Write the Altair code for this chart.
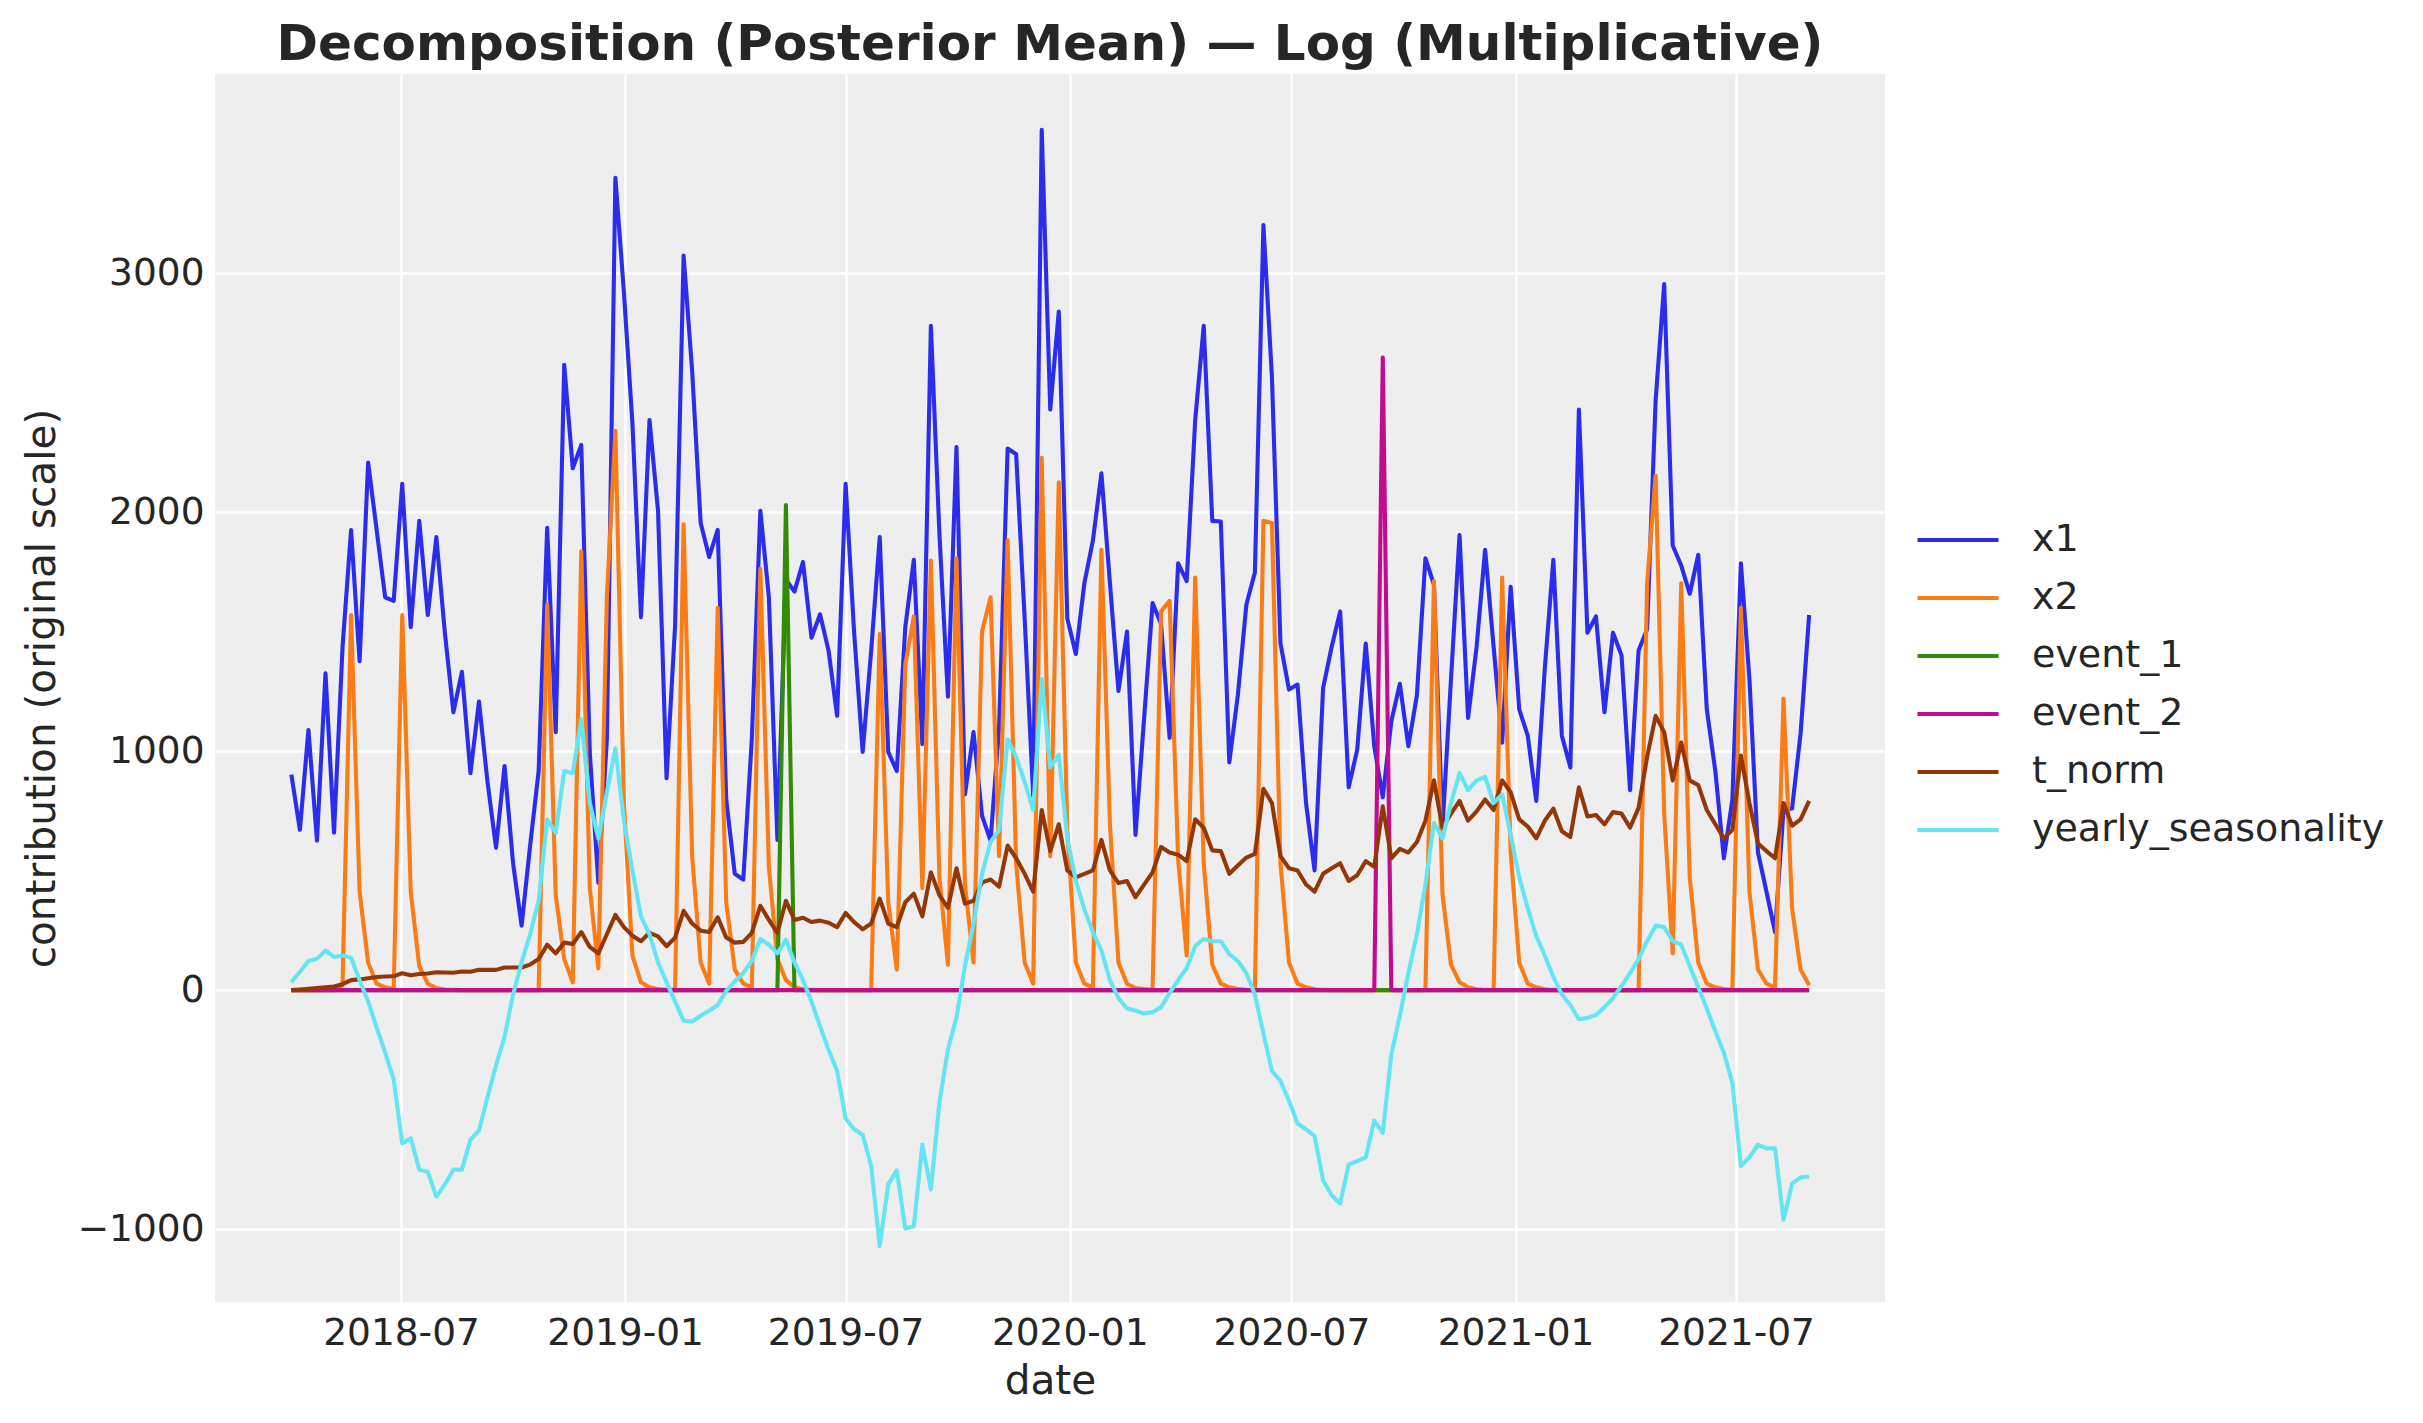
import altair as alt
import pandas as pd

# weekly dates (179 Mondays)
dates = pd.date_range("2018-04-02", periods=179, freq="7D").strftime("%Y-%m-%d").tolist()

x1 = [
    902, 671, 1089, 626, 1326, 659, 1436, 1926, 1377, 2208,
    1926, 1644, 1629, 2119, 1519, 1964, 1570, 1896, 1496, 1163,
    1332, 908, 1208, 872, 596, 938, 531, 270, 605, 917,
    1935, 1080, 2617, 2184, 2282, 991, 450, 1050, 3400, 2920,
    2371, 1561, 2386, 2006, 887, 1525, 3074, 2593, 1955, 1813,
    1926, 798, 487, 463, 1050, 2006, 1644, 629, 1718, 1668,
    1792, 1475, 1573, 1421, 1148, 2119, 1496, 997, 1421, 1896,
    997, 917, 1519, 1801, 1030, 2780, 1911, 1228, 2273, 819,
    1080, 730, 626, 1100, 2267, 2243, 1555, 813, 3600, 2430,
    2840, 1555, 1407, 1703, 1881, 2163, 1703, 1252, 1501, 650,
    1134, 1620, 1531, 1056, 1786, 1712, 2386, 2780, 1964, 1961,
    953, 1234, 1614, 1748, 3202, 2564, 1451, 1258, 1279, 783,
    501, 1264, 1436, 1585, 849, 1006, 1451, 1021, 807, 1125,
    1282, 1021, 1234, 1807, 1697, 680, 1303, 1905, 1139, 1436,
    1843, 1436, 1036, 1688, 1175, 1065, 792, 1347, 1801, 1065,
    932, 2430, 1496, 1564, 1163, 1496, 1401, 837, 1421, 1510,
    2469, 2955, 1861, 1777, 1659, 1822, 1175, 917, 552, 798,
    1786, 1303, 576, 412, 243, 754, 760, 1074, 1570,
]

x2 = [
    0, 0, 0, 0, 0, 0, 20, 1570, 412, 116,
    27, 12, 5, 1570, 412, 100, 27, 9, 3, 1,
    0, 0, 0, 0, 0, 0, 0, 0, 0, 0,
    1614, 398, 130, 33, 1837, 427, 92, 1644, 2341, 783,
    145, 33, 12, 5, 2, 0, 1950, 561, 116, 27,
    1600, 368, 86, 27, 12, 1763, 516, 130, 42, 12,
    4, 1, 0, 0, 0, 0, 0, 0, 0, 1490,
    368, 86, 1362, 1564, 427, 1798, 472, 107, 1807, 442,
    116, 1501, 1644, 561, 1884, 531, 116, 27, 2228, 561,
    2125, 665, 116, 27, 12, 1843, 694, 116, 27, 9,
    5, 2, 1585, 1629, 546, 145, 1727, 531, 107, 27,
    12, 5, 2, 0, 1964, 1955, 531, 116, 27, 12,
    4, 1, 0, 0, 0, 0, 0, 0, 0, 0,
    0, 0, 0, 0, 1712, 401, 107, 33, 12, 4,
    1, 0, 1727, 576, 116, 27, 12, 4, 1, 0,
    0, 0, 0, 0, 0, 0, 0, 0, 0, 1703,
    2154, 739, 154, 1703, 472, 116, 27, 12, 5, 2,
    1600, 412, 86, 27, 12, 1220, 344, 86, 21,
]

event_1 = [0] * 58 + [2030] + [0] * 120
event_2 = [0] * 128 + [2647] + [0] * 50

t_norm = [
    0, 3, 6, 9, 12, 15, 25, 42, 45, 50,
    55, 57, 58, 71, 62, 68, 70, 75, 74, 73,
    78, 77, 85, 85, 85, 95, 95, 95, 107, 130,
    190, 154, 199, 193, 243, 181, 154, 234, 315, 264,
    228, 205, 240, 225, 184, 220, 332, 279, 249, 243,
    305, 220, 199, 202, 240, 353, 294, 240, 374, 294,
    303, 285, 291, 282, 264, 323, 285, 255, 279, 383,
    279, 264, 368, 404, 309, 493, 398, 344, 510, 362,
    374, 451, 463, 433, 605, 552, 487, 412, 754, 582,
    694, 501, 472, 487, 501, 629, 501, 448, 457, 389,
    442, 493, 599, 576, 567, 540, 715, 680, 585, 582,
    487, 522, 555, 570, 843, 783, 561, 510, 501, 442,
    412, 487, 510, 531, 457, 481, 540, 516, 769, 552,
    591, 576, 620, 709, 878, 680, 739, 792, 709, 748,
    798, 754, 878, 828, 715, 685, 635, 709, 760, 665,
    641, 849, 727, 733, 694, 745, 739, 680, 763, 976,
    1148, 1080, 878, 1036, 878, 858, 754, 694, 635, 671,
    982, 783, 614, 582, 552, 783, 688, 715, 792,
]

yearly_seasonality = [
    33, 77, 122, 131, 166, 139, 145, 136, 42, -47,
    -157, -261, -374, -641, -620, -751, -760, -864, -813, -751,
    -751, -626, -588, -448, -315, -196, -18, 116, 234, 374,
    715, 659, 917, 908, 1134, 783, 635, 828, 1012, 709,
    501, 309, 234, 116, 33, -47, -128, -131, -107, -86,
    -62, -3, 36, 71, 122, 214, 190, 154, 211, 116,
    42, -47, -151, -249, -338, -537, -582, -605, -736, -1071,
    -813, -754, -997, -988, -647, -834, -470, -248, -115, 101,
    279, 487, 620, 671, 1050, 976, 872, 754, 1303, 932,
    985, 635, 457, 338, 243, 166, 42, -33, -77, -86,
    -98, -92, -71, -12, 42, 92, 184, 214, 205, 205,
    151, 122, 71, -18, -181, -338, -380, -463, -558, -582,
    -611, -795, -858, -893, -730, -715, -700, -546, -597, -270,
    -107, 71, 234, 442, 700, 635, 783, 908, 837, 878,
    893, 783, 819, 650, 472, 344, 226, 145, 56, -18,
    -62, -122, -116, -104, -71, -33, 18, 71, 131, 205,
    270, 264, 205, 190, 101, 12, -77, -172, -261, -389,
    -736, -700, -647, -662, -662, -961, -810, -783, -780,
]

series_names = ["x1", "x2", "event_1", "event_2", "t_norm", "yearly_seasonality"]
series_colors = ["#2a2eec", "#fa7c17", "#328c06", "#c10c90", "#933708", "#65e5f3"]
series_values = [x1, x2, event_1, event_2, t_norm, yearly_seasonality]
y_ticks = [-1000, 0, 1000, 2000, 3000]
x_tick_dates = [(2018, 7), (2019, 1), (2019, 7), (2020, 1), (2020, 7), (2021, 1), (2021, 7)]

frames = []
for name, vals in zip(series_names, series_values):
    frames.append(pd.DataFrame({"date": dates, "value": vals, "series": name}))
df = pd.concat(frames, ignore_index=True)

FONT = "DejaVu Sans"
TXT = "#262626"

x_scale = alt.Scale(
    type="utc",
    domain=[
        alt.DateTime(year=2018, month=1, date=29, hours=7, utc=True),
        alt.DateTime(year=2021, month=10, date=31, hours=7, utc=True),
    ],
    nice=False,
)
x_axis = alt.Axis(
    values=[alt.DateTime(year=y, month=m, date=1, utc=True) for y, m in x_tick_dates],
    format="%Y-%m",
    labelPadding=12,
    titlePadding=10,
    labelAngle=0,
)
y_scale = alt.Scale(domain=[-1305, 3834], nice=False, zero=False)
y_axis = alt.Axis(values=y_ticks, format="d", labelPadding=11, titlePadding=14)

color_scale = alt.Scale(domain=series_names, range=series_colors)
legend = alt.Legend(
    orient="none",
    legendX=1700,
    legendY=447,
    symbolType="stroke",
    symbolSize=6561,
    symbolStrokeWidth=4.2,
    labelFontSize=38,
    labelFont=FONT,
    labelColor=TXT,
    labelOffset=31,
    labelLimit=600,
    rowPadding=20,
    clipHeight=38,
)

base = alt.Chart(df)
layers = []
for name in series_names:
    layers.append(
        base.transform_filter(alt.datum.series == name)
        .mark_line(strokeWidth=4.1, strokeJoin="round")
        .encode(
            x=alt.X("date:T", scale=x_scale, axis=x_axis, title="date"),
            y=alt.Y("value:Q", scale=y_scale, axis=y_axis, title="contribution (original scale)"),
            color=alt.Color("series:N", scale=color_scale, legend=legend, title=""),
        )
    )

chart = (
    alt.layer(*layers)
    .properties(
        width=1670,
        height=1228,
        padding={"left": 14, "top": 12, "right": 0, "bottom": 0},
        title=alt.TitleParams(
            "Decomposition (Posterior Mean) \u2014 Log (Multiplicative)",
            fontSize=50,
            fontWeight="bold",
            font=FONT,
            color=TXT,
            anchor="middle",
            offset=4,
        ),
    )
    .configure_view(fill="#eeeeee", strokeWidth=0)
    .configure_axis(
        grid=True,
        gridColor="#ffffff",
        gridWidth=2.4,
        domain=False,
        ticks=False,
        labelFont=FONT,
        labelFontSize=37.5,
        labelColor=TXT,
        titleFont=FONT,
        titleFontSize=40.6,
        titleFontWeight="normal",
        titleColor=TXT,
    )
)

chart.save("out.html", embed_options={"renderer": "svg", "actions": False})
